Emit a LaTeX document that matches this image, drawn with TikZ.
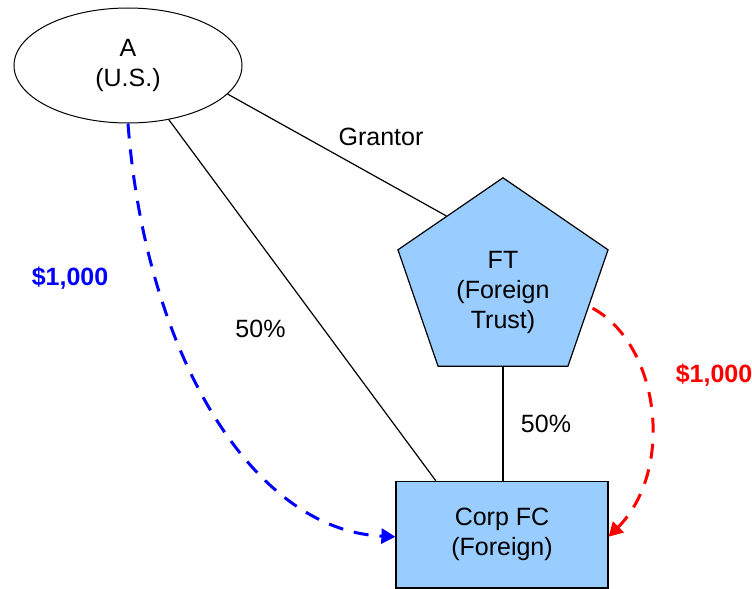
\documentclass[tikz,border=0pt]{standalone}
\usepackage{fontspec}
\setmainfont{Liberation Sans}
\usetikzlibrary{shapes,arrows.meta,calc}

\definecolor{fcblue}{RGB}{153,204,255}

\begin{document}
\begin{tikzpicture}[
    x=0.5pt, y=-0.5pt,
    every node/.style={font=\fontsize{12.5}{15}\selectfont, align=center},
    party/.style={ellipse, draw, line width=0.5pt, minimum width=114pt, minimum height=57.5pt, inner sep=0pt},
    trust/.style={regular polygon, regular polygon sides=5, draw, line width=0.6pt, fill=fcblue, minimum size=104.2pt, inner sep=0pt, xscale=1.06, transform shape},
    corp/.style={rectangle, draw, line width=0.6pt, fill=fcblue, minimum width=106pt, minimum height=53.25pt},
    link/.style={line width=0.6pt},
    flow/.style={line width=1.5pt, dash pattern=on 7.5pt off 5.5pt, -{Triangle[length=7pt, width=7.5pt]}},
    amount/.style={font=\fontsize{12.5}{15}\selectfont\bfseries}
]
\useasboundingbox (0,0) rectangle (752,589);

% Parties
\node[party] (a) at (128,65.5) {A\\(U.S.)};
\node[trust] (ft) at (503,282) {};
\node (ftname) at (503,292) {FT\\(Foreign\\Trust)};
\node[corp] (fc) at (502,534.75) {Corp FC\\(Foreign)};

% Grantor and ownership lines
\draw[link] (a.-16) -- ($(ft.corner 1)!0.536!(ft.corner 2)$);
\node (grantor) at (381,137) {Grantor};
\draw[link] (a.-53.5) -- ($(fc.north west)!0.19!(fc.north east)$);
\node (pctA) at (260.5,329) {50\%};
\draw[link] (ft.south) -- (ft.south |- fc.north);
\node (pctFT) at (546,424) {50\%};

% Payments
\draw[flow, blue] (a.south) .. controls (145,350) and (250,530) .. ([yshift=-1pt]fc.west);
\node[amount, text=blue] (payA) at (70,278) {\$1,000};
\draw[flow, red] ([xshift=2pt]$(ft.corner 5)!0.5!(ft.corner 4)$) .. controls (660,345) and (675,470) .. ([yshift=-1pt]fc.east);
\node[amount, text=red] (payFT) at (714,375.5) {\$1,000};

\end{tikzpicture}
\end{document}
